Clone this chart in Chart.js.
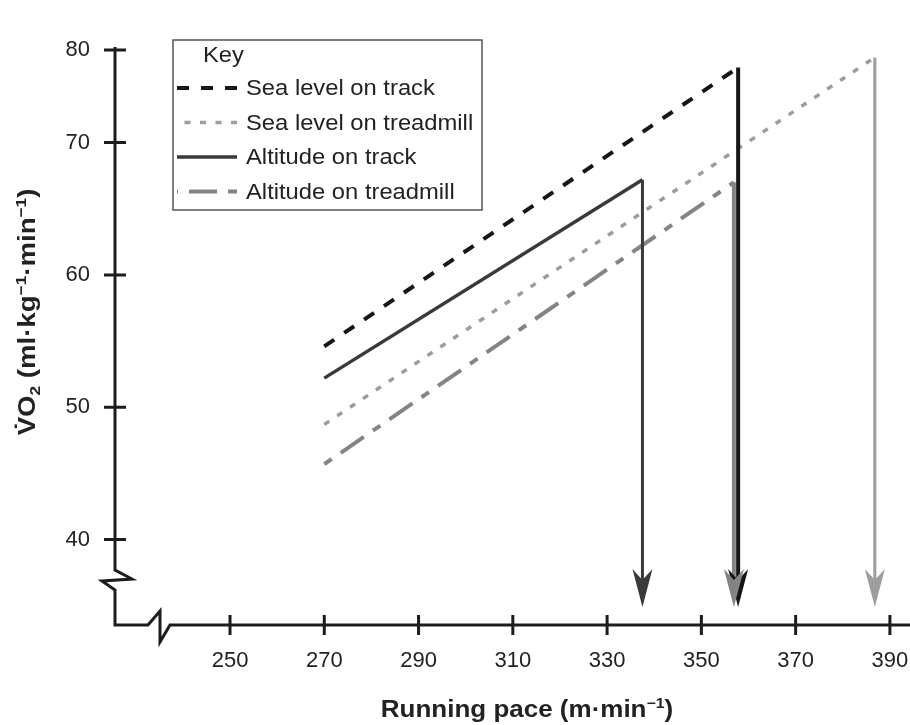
<!DOCTYPE html>
<html>
<head>
<meta charset="utf-8">
<title>Running pace and VO2</title>
<script src="https://cdn.jsdelivr.net/npm/chart.js@4.4.1/dist/chart.umd.min.js"></script>
<style>
  body { margin: 0; background: #fff; }
  #wrap { width: 910px; height: 725px; }
</style>
</head>
<body>
<div id="wrap"><canvas id="vo2Chart" width="910" height="725"></canvas></div>
<script>
// Pace (m/min) and VO2 (ml/kg/min) at the start of each line and at VO2max
const seriesLabels = ['Sea level on track', 'Sea level on treadmill', 'Altitude on track', 'Altitude on treadmill'];
const startPace = [270, 270, 270, 270];
const startVO2 = [54.6, 48.7, 52.2, 45.7];
const maxPace = [357.8, 386.8, 337.5, 356.9];
const maxVO2 = [78.1, 79.2, 67.2, 67.0];
const arrowFoot = 35.5; // where the drop arrows end, just above the x axis

const xTicks = [250, 270, 290, 310, 330, 350, 370, 390];
const yTicks = [40, 50, 60, 70, 80];

const lineColors = ['#161616', '#9d9d9d', '#3a3a3a', '#848484'];
const lineWidths = [4, 3.5, 3.5, 4];
const lineDashes = [[12, 12], [6, 9.5], [], [9, 11, 28, 11]];
const dropWidths = [4, 3, 3, 4];

const FONT = "'Liberation Sans', Arial, sans-serif";
const INK = '#222';

// y axis is drawn tighter above 70 (70-80 takes less room than 60-70)
const yKnee = 70;
const yAboveKnee = 0.7;

class KneeScale extends Chart.LinearScale {
    warp(v) { return v <= yKnee ? v : yKnee + (v - yKnee) * yAboveKnee; }
    unwarp(w) { return w <= yKnee ? w : yKnee + (w - yKnee) / yAboveKnee; }
    getPixelForValue(value) {
        if (value === null || value === undefined) return NaN;
        const a = this.warp(this.min), b = this.warp(this.max);
        return this.getPixelForDecimal((this.warp(value) - a) / (b - a));
    }
    getValueForPixel(pixel) {
        const a = this.warp(this.min), b = this.warp(this.max);
        return this.unwarp(a + this.getDecimalForPixel(pixel) * (b - a));
    }
}
KneeScale.id = 'knee';
KneeScale.defaults = Chart.LinearScale.defaults;
Chart.register(KneeScale);

const datasets = seriesLabels.map((label, i) => ({
    label,
    data: [
        { x: startPace[i], y: startVO2[i] },
        { x: maxPace[i], y: maxVO2[i] },
        { x: maxPace[i], y: arrowFoot }
    ],
    borderColor: lineColors[i],
    borderWidth: lineWidths[i],
    borderDash: lineDashes[i],
    borderCapStyle: 'butt',
    borderJoinStyle: 'miter',
    pointRadius: 0,
    pointHoverRadius: 0,
    tension: 0,
    fill: false,
    segment: {
        borderDash: ctx => ctx.p0DataIndex === 1 ? [] : undefined,
        borderWidth: ctx => ctx.p0DataIndex === 1 ? dropWidths[i] : undefined
    }
}));

// draws bold text made of normal / superscript / subscript pieces, centred on (0,0)
function drawRich(ctx, parts, size, stretch) {
    const small = Math.round(size * 0.62);
    const fontOf = kind => 'bold ' + (kind ? small : size) + 'px ' + FONT;
    const widths = parts.map(([t, kind]) => { ctx.font = fontOf(kind); return ctx.measureText(t).width; });
    const total = widths.reduce((a, b) => a + b, 0);
    let x = -total / 2;
    ctx.scale(stretch, 1);
    ctx.textBaseline = 'alphabetic';
    ctx.textAlign = 'left';
    parts.forEach(([t, kind], i) => {
        ctx.font = fontOf(kind);
        const dy = kind === 'sup' ? -size * 0.38 : kind === 'sub' ? size * 0.22 : 0;
        ctx.fillText(t, x, dy);
        x += widths[i];
    });
}

function arrowHead(ctx, x, tipY, color) {
    ctx.fillStyle = color;
    ctx.beginPath();
    ctx.moveTo(x, tipY);
    ctx.lineTo(x - 10, tipY - 38);
    ctx.lineTo(x, tipY - 27);
    ctx.lineTo(x + 10, tipY - 38);
    ctx.closePath();
    ctx.fill();
}

const axesPlugin = {
    id: 'brokenAxes',
    beforeDatasetsDraw(chart) {
        const { ctx, chartArea: a, scales } = chart;
        const L = a.left, B = a.bottom;
        ctx.save();
        ctx.strokeStyle = '#1c1c1c';
        ctx.lineWidth = 3;
        ctx.lineJoin = 'miter';
        ctx.beginPath();
        // y axis with break
        ctx.moveTo(L, a.top - 3);
        ctx.lineTo(L, B - 55);
        ctx.lineTo(L + 17, B - 46);
        ctx.lineTo(L - 13, B - 44);
        ctx.lineTo(L, B - 35);
        ctx.lineTo(L, B);
        // x axis with break
        ctx.lineTo(L + 33, B);
        ctx.lineTo(L + 45, B - 14);
        ctx.lineTo(L + 45, B + 17);
        ctx.lineTo(L + 55, B);
        ctx.lineTo(a.right + 5, B);
        ctx.stroke();
        // tick marks crossing the axes
        ctx.beginPath();
        yTicks.forEach(v => {
            const py = scales.y.getPixelForValue(v);
            ctx.moveTo(L - 11, py); ctx.lineTo(L + 11, py);
        });
        xTicks.forEach(v => {
            const px = scales.x.getPixelForValue(v);
            ctx.moveTo(px, B - 10); ctx.lineTo(px, B + 10);
        });
        ctx.stroke();

        // axis titles
        ctx.fillStyle = INK;
        ctx.save();
        ctx.translate(527, 717);
        drawRich(ctx, [['Running pace (m\u00b7min', ''], ['\u22121', 'sup'], [')', '']], 23, 1.13);
        ctx.restore();
        ctx.save();
        ctx.translate(35, 312);
        ctx.rotate(-Math.PI / 2);
        drawRich(ctx, [['V\u0307O', ''], ['2', 'sub'], [' (ml\u00b7kg', ''], ['\u22121', 'sup'],
            ['\u00b7min', ''], ['\u22121', 'sup'], [')', '']], 24, 1.15);
        ctx.restore();
        ctx.restore();
    },
    afterDatasetsDraw(chart) {
        const { ctx } = chart;
        ctx.save();
        chart.data.datasets.forEach((ds, i) => {
            const pts = chart.getDatasetMeta(i).data;
            const foot = pts[pts.length - 1];
            arrowHead(ctx, foot.x, foot.y + 8, lineColors[i]);
        });
        ctx.restore();
    }
};

// boxed "Key" legend
const keyPlugin = {
    id: 'keyBox',
    afterDraw(chart) {
        const { ctx } = chart;
        const box = { x: 173, y: 40, w: 309, h: 170 };
        const text = (s, x, y) => {
            ctx.save();
            ctx.translate(x, y);
            ctx.scale(1.08, 1);
            ctx.fillText(s, 0, 0);
            ctx.restore();
        };
        ctx.save();
        ctx.strokeStyle = '#555';
        ctx.lineWidth = 1.5;
        ctx.strokeRect(box.x, box.y, box.w, box.h);
        ctx.fillStyle = INK;
        ctx.font = '22px ' + FONT;
        ctx.textBaseline = 'middle';
        ctx.textAlign = 'left';
        text('Key', 203, 56);
        seriesLabels.forEach((label, i) => {
            const y = 88 + i * 34.5;
            ctx.beginPath();
            ctx.strokeStyle = lineColors[i];
            ctx.lineWidth = lineWidths[i];
            ctx.lineCap = 'butt';
            ctx.setLineDash(lineDashes[i]);
            ctx.moveTo(237, y);
            ctx.lineTo(177, y);
            ctx.stroke();
            ctx.setLineDash([]);
            text(label, 246, y + 1);
        });
        ctx.restore();
    }
};

new Chart(document.getElementById('vo2Chart'), {
    type: 'line',
    data: { datasets },
    options: {
        responsive: false,
        animation: false,
        devicePixelRatio: 1,
        layout: { padding: { top: 50, right: 5, left: 0, bottom: 0 } },
        plugins: { legend: { display: false }, tooltip: { enabled: false } },
        scales: {
            x: {
                type: 'linear',
                min: 225.6,
                max: 393.2,
                afterFit: s => { s.height = 100; s.paddingLeft = 0; s.paddingRight = 0; },
                afterBuildTicks: s => { s.ticks = xTicks.map(v => ({ value: v })); },
                grid: { display: false, drawTicks: false },
                border: { display: false },
                ticks: { padding: 23, color: INK, font: { family: FONT, size: 22 }, maxRotation: 0 }
            },
            y: {
                type: 'knee',
                min: 33.54,
                max: 80,
                afterFit: s => { s.width = 115; },
                afterBuildTicks: s => { s.ticks = yTicks.map(v => ({ value: v })); },
                grid: { display: false, drawTicks: false },
                border: { display: false },
                ticks: { padding: 25, color: INK, font: { family: FONT, size: 22 } }
            }
        }
    },
    plugins: [axesPlugin, keyPlugin]
});
</script>
</body>
</html>
